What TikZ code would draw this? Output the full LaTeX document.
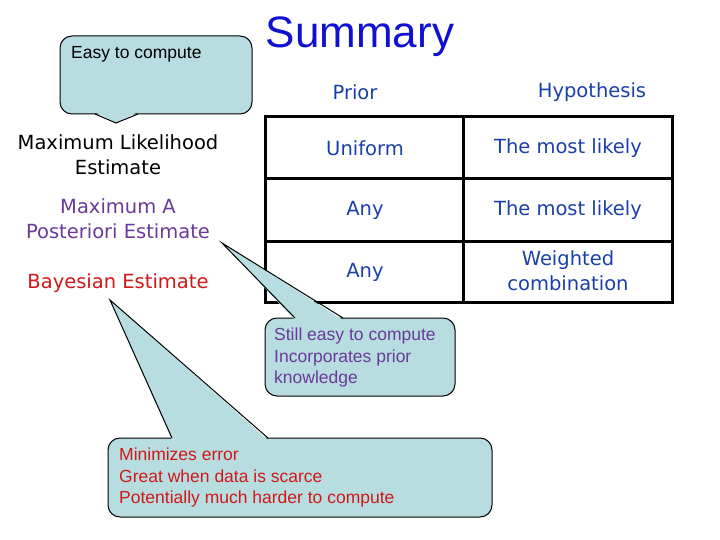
\documentclass[tikz,border=0pt]{standalone}
\usepackage{fontspec}
\setmainfont{Liberation Sans}
\newfontfamily\comic{DejaVu Sans}
\definecolor{cfill}{HTML}{B8DDE0}
\definecolor{tblue}{HTML}{1A3FA8}
\definecolor{ttitle}{HTML}{1010D0}
\definecolor{tpurple}{HTML}{6A3A9A}
\definecolor{tred}{HTML}{D01818}
\begin{document}
\begin{tikzpicture}[x=1pt,y=-1pt,
  box/.style={draw=black,line width=1pt,fill=cfill,rounded corners=12pt},
  ctext/.style={font=\fontsize{17.5}{21.5}\selectfont,align=left,anchor=north west,inner sep=0pt},
  lbl/.style={font=\comic\fontsize{19.5}{25}\selectfont,align=center},
  cell/.style={font=\comic\fontsize{19.5}{25}\selectfont,text=tblue,align=center}]
\useasboundingbox (0,0) rectangle (720,540);
% title
\node[font=\fontsize{44}{50}\selectfont,text=ttitle] (title) at (360,37) {Summary};
% column heads
\node[cell] (hprior) at (355,92) {Prior};
\node[cell] (hhyp) at (592,92) {Hypothesis};
% table
\draw[line width=3pt] (265,117) rectangle (672,302);
\draw[line width=3pt] (463,117) -- (463,302);
\draw[line width=3pt] (265,179) -- (672,179);
\draw[line width=3pt] (265,241) -- (672,241);
\node[cell] (c11) at (365,148) {Uniform};
\node[cell] (c12) at (568,148) {The most likely};
\node[cell] (c21) at (365,210) {Any};
\node[cell] (c22) at (568,210) {The most likely};
\node[cell] (c31) at (365,272) {Any};
\node[cell] (c32) at (568,271) {Weighted\\combination};
% row labels
\node[lbl] (ml) at (118,155) {Maximum Likelihood\\Estimate};
\node[lbl,text=tpurple] (map) at (118,219) {Maximum A\\Posteriori Estimate};
\node[lbl,text=tred] (bay) at (118,283) {Bayesian Estimate};
% callout 1
\draw[box] (60,36) rectangle (252,114);
\coordinate (t1) at (116,123);
\fill[cfill] (95,112) -- (t1) -- (138,112) -- cycle;
\draw[line width=1pt] (95,114) -- (t1) -- (138,114);
\node[ctext,text=black] (e1) at (71,46) {Easy to compute};
% callout 2
\draw[box] (265,318) rectangle (455,396);
\coordinate (t2) at (222,243);
\fill[cfill] (295,320) -- (t2) -- (343,320) -- cycle;
\draw[line width=1pt] (295,318) -- (t2) -- (343,318);
\node[ctext,text=tpurple] (e2) at (274,328) {Still easy to compute\\Incorporates prior\\knowledge};
% callout 3
\draw[box] (108,438) rectangle (492,517);
\coordinate (t3) at (110,300);
\fill[cfill] (172,440) -- (t3) -- (268,440) -- cycle;
\draw[line width=1pt] (172,438) -- (t3) -- (268,438);
\node[ctext,text=tred] (e3) at (119,448) {Minimizes error\\Great when data is scarce\\Potentially much harder to compute};
\end{tikzpicture}
\end{document}
